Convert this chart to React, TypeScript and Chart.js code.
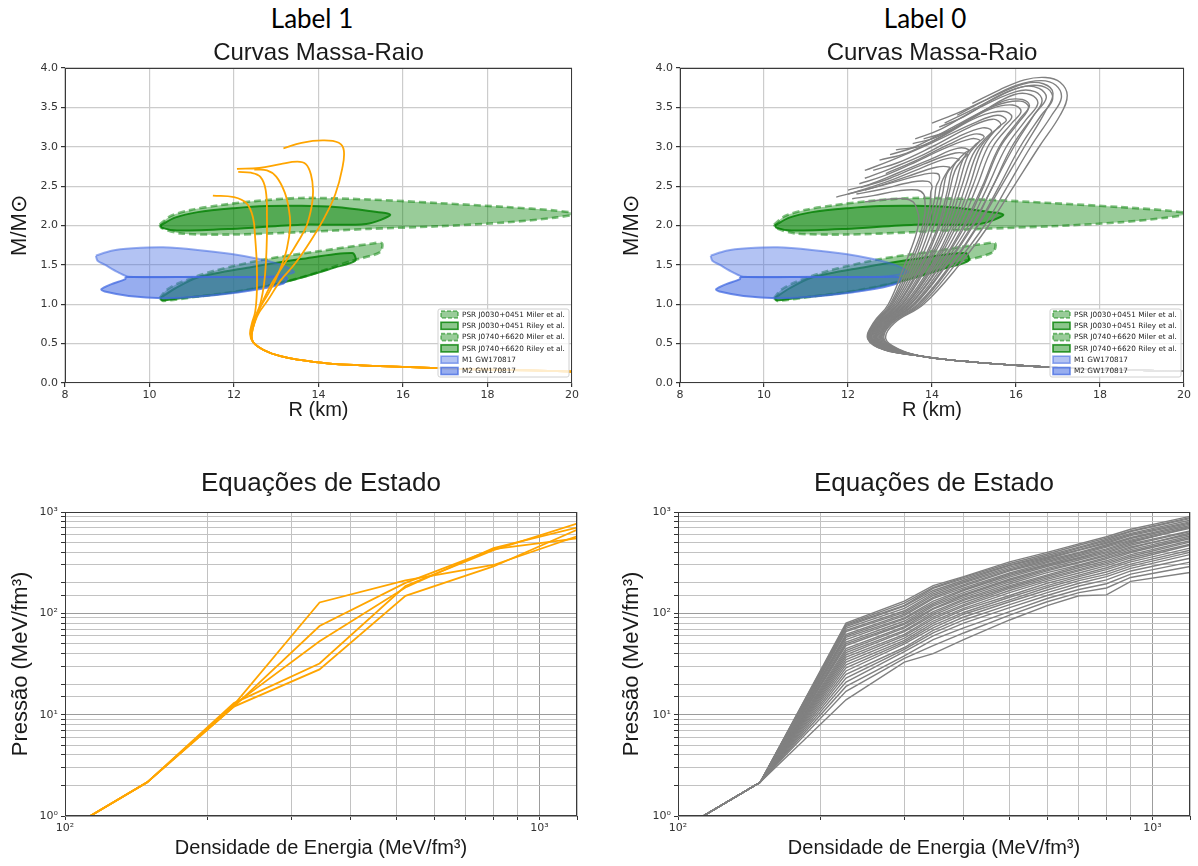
import React, { useEffect, useRef } from 'react';
import { Chart, registerables } from 'chart.js';
Chart.register(...registerables);

type P = [number, number];

// ---------- observational contours (R km, M/Msun) ----------
const J0030_MILER: P[] = [[10.24,1.077],[10.4,1.18],[10.73,1.277],[11.54,1.426],[12.77,1.574],[13.99,1.672],[15.21,1.766],[15.5,1.775],[15.45,1.66],[14.8,1.553],[13.58,1.34],[12.36,1.19],[11.14,1.098],[10.32,1.043],[10.24,1.077]];
const J0030_RILEY: P[] = [[10.26,1.08],[10.6,1.2],[11.14,1.34],[12.36,1.468],[13.58,1.574],[14.8,1.651],[14.87,1.553],[14.4,1.468],[13.17,1.277],[11.95,1.149],[10.73,1.077],[10.3,1.05],[10.26,1.08]];
const J0740_MILER: P[] = [[10.24,2.01],[10.5,2.12],[11.0,2.2],[11.63,2.255],[12.5,2.31],[13.58,2.35],[15.2,2.33],[16.84,2.285],[18.47,2.234],[19.6,2.19],[20.1,2.15],[19.6,2.1],[18.47,2.04],[16.84,1.99],[15.2,1.957],[13.58,1.915],[11.95,1.885],[10.73,1.9],[10.28,1.97],[10.24,2.01]];
const J0740_RILEY: P[] = [[10.26,2.0],[10.6,2.1],[11.14,2.17],[12.0,2.22],[12.77,2.247],[13.6,2.25],[14.4,2.234],[15.2,2.183],[15.7,2.136],[15.13,2.02],[13.58,2.01],[11.95,1.957],[10.65,1.936],[10.3,1.97],[10.26,2.0]];
const GW_M1: P[] = [[8.73,1.617],[9.1,1.68],[9.6,1.71],[10.32,1.723],[11.14,1.69],[11.95,1.638],[12.6,1.574],[13.17,1.49],[13.42,1.404],[12.77,1.349],[11.14,1.349],[9.51,1.349],[9.26,1.404],[8.94,1.502],[8.77,1.553],[8.73,1.617]];
const GW_M2: P[] = [[9.43,1.345],[11.14,1.345],[12.77,1.345],[13.25,1.34],[13.17,1.264],[12.36,1.17],[11.14,1.094],[10.32,1.077],[9.51,1.106],[8.94,1.162],[8.86,1.19],[9.1,1.255],[9.43,1.32],[9.43,1.345]];

const LEGEND_LABELS = ['PSR J0030+0451 Miler et al.','PSR J0030+0451 Riley et al.','PSR J0740+6620 Miler et al.','PSR J0740+6620 Riley et al.','M1 GW170817','M2 GW170817'];

// ---------- Label 1 : mass-radius curves ----------
const ORANGE_TAIL: P[] = [[20.3,0.14],[19,0.16],[18,0.17],[17,0.185],[16,0.205],[15,0.225],[14.2,0.25],[13.6,0.29],[13.1,0.34],[12.7,0.42],[12.45,0.52]];
const ORANGE_MR: P[][] = [
  [[12.38,0.62],[12.42,0.75],[12.5,0.9],[12.54,1.15],[12.54,1.5],[12.5,1.85],[12.45,2.1],[12.3,2.28],[12.0,2.36],[11.5,2.38]],
  [[12.4,0.62],[12.47,0.8],[12.62,1.0],[12.72,1.3],[12.77,1.7],[12.78,2.1],[12.75,2.45],[12.62,2.62],[12.4,2.67],[12.1,2.68]],
  [[12.42,0.62],[12.5,0.8],[12.65,1.0],[12.9,1.27],[13.2,1.52],[13.5,1.78],[13.72,2.0],[13.84,2.25],[13.87,2.45],[13.82,2.65],[13.7,2.78],[13.5,2.81],[13.1,2.78],[12.6,2.73],[12.07,2.72]],
  [[12.42,0.62],[12.5,0.8],[12.63,0.97],[12.85,1.17],[13.08,1.43],[13.25,1.7],[13.33,2.0],[13.3,2.2],[13.2,2.42],[13.0,2.62],[12.78,2.7],[12.48,2.71]],
  [[12.42,0.62],[12.5,0.78],[12.6,0.9],[12.8,1.05],[13.1,1.3],[13.45,1.52],[13.82,1.81],[14.15,2.11],[14.4,2.4],[14.56,2.72],[14.6,2.95],[14.48,3.05],[14.1,3.08],[13.6,3.05],[13.17,2.98]],
];

// ---------- Label 0 : mass-radius curves ----------
const GRAY_TAIL: P[] = [[20.3,0.145],[19,0.16],[18,0.175],[17,0.195],[16,0.225],[15,0.265],[14.3,0.3],[13.7,0.345]];
const GRAY_MR: P[][] = [
  [[13.25,0.42],[12.9,0.56],[13.1,0.76],[13.8,1.0],[14.65,1.5],[15.35,2.0],[15.95,2.5],[16.55,3.0],[17.05,3.4],[17.22,3.65],[17.05,3.82],[16.7,3.88],[16.2,3.85],[15.6,3.72],[14.96,3.55]],
  [[13.22,0.42],[12.86,0.56],[13.05,0.76],[13.75,1.0],[14.55,1.5],[15.25,2.0],[15.8,2.5],[16.35,3.0],[16.85,3.4],[17.08,3.62],[16.95,3.78],[16.6,3.84],[16.0,3.78],[15.3,3.6],[14.6,3.4]],
  [[13.2,0.42],[12.84,0.56],[13.03,0.76],[13.7,1.0],[14.47,1.5],[15.1,2.0],[15.65,2.5],[16.2,3.0],[16.7,3.45],[16.88,3.68],[16.65,3.8],[16.2,3.8],[15.5,3.65],[14.7,3.45],[14.0,3.3]],
  [[13.2,0.42],[12.82,0.56],[13.0,0.76],[13.66,1.0],[14.44,1.5],[15.08,2.0],[15.6,2.5],[16.1,3.0],[16.6,3.4],[16.87,3.6],[16.75,3.74],[16.35,3.78],[15.8,3.7],[15.0,3.48],[14.3,3.3]],
  [[13.18,0.42],[12.8,0.56],[12.98,0.76],[13.6,1.0],[14.35,1.5],[14.98,2.0],[15.45,2.5],[15.95,3.0],[16.4,3.38],[16.62,3.58],[16.45,3.7],[16.0,3.7],[15.0,3.46],[14.2,3.22],[13.6,3.1]],
  [[13.16,0.42],[12.78,0.56],[12.96,0.76],[13.58,1.0],[14.33,1.5],[14.95,2.0],[15.45,2.5],[15.9,3.0],[16.45,3.42],[16.72,3.62],[16.55,3.74],[16.15,3.76],[15.45,3.6],[14.75,3.38],[14.17,3.25]],
  [[13.15,0.42],[12.76,0.56],[12.94,0.76],[13.55,1.0],[14.27,1.5],[14.87,2.0],[15.33,2.5],[15.77,3.0],[16.25,3.35],[16.52,3.55],[16.35,3.66],[15.95,3.66],[15.2,3.45],[14.4,3.2],[13.8,3.1]],
  [[13.14,0.42],[12.74,0.56],[12.92,0.76],[13.5,1.0],[14.21,1.5],[14.79,2.0],[15.23,2.5],[15.63,3.0],[16.05,3.3],[16.3,3.5],[16.1,3.58],[15.5,3.52],[14.5,3.25],[13.6,3.0],[13.0,2.9]],
  [[13.12,0.42],[12.72,0.56],[12.9,0.76],[13.48,1.0],[14.19,1.5],[14.75,2.0],[15.2,2.5],[15.6,3.0],[16.1,3.36],[16.32,3.52],[16.15,3.6],[15.7,3.58],[14.9,3.35],[14.1,3.12],[13.54,3.04]],
  [[13.1,0.42],[12.7,0.56],[12.88,0.76],[13.44,1.0],[14.13,1.5],[14.67,2.0],[15.07,2.5],[15.45,3.0],[15.9,3.3],[16.12,3.45],[15.92,3.53],[15.4,3.48],[14.6,3.25],[13.8,3.02],[13.14,2.96]],
  [[13.08,0.42],[12.68,0.56],[12.86,0.76],[13.4,1.0],[14.07,1.5],[14.59,2.0],[14.97,2.5],[15.33,3.0],[15.7,3.25],[15.9,3.38],[15.7,3.45],[15.1,3.38],[14.2,3.12],[13.4,2.92],[12.75,2.83]],
  [[13.06,0.42],[12.66,0.56],[12.84,0.76],[13.38,1.0],[14.03,1.5],[14.53,2.0],[14.89,2.5],[15.2,2.98],[15.56,3.24],[15.77,3.34],[15.55,3.4],[15.0,3.3],[14.0,3.05],[13.0,2.82],[12.4,2.7]],
  [[13.05,0.42],[12.64,0.56],[12.82,0.76],[13.34,1.0],[13.99,1.5],[14.47,2.0],[14.8,2.5],[15.1,2.95],[15.44,3.18],[15.64,3.28],[15.45,3.35],[14.9,3.25],[14.0,3.0],[13.2,2.8],[12.6,2.7]],
  [[13.04,0.42],[12.62,0.56],[12.8,0.76],[13.3,1.0],[13.91,1.5],[14.39,2.0],[14.71,2.5],[14.97,2.9],[15.26,3.1],[15.42,3.2],[15.2,3.24],[14.6,3.12],[13.8,2.9],[13.0,2.72],[12.4,2.6]],
  [[13.02,0.42],[12.6,0.56],[12.78,0.76],[13.28,1.0],[13.87,1.5],[14.33,2.0],[14.63,2.5],[14.85,2.88],[15.1,3.05],[15.24,3.13],[15.0,3.16],[14.4,3.03],[13.6,2.82],[12.9,2.66]],
  [[13.0,0.42],[12.58,0.56],[12.76,0.76],[13.24,1.0],[13.83,1.5],[14.27,2.0],[14.55,2.5],[14.75,2.85],[15.02,3.02],[15.14,3.08],[14.92,3.1],[14.3,2.98],[13.5,2.78],[12.8,2.62],[12.27,2.53]],
  [[12.98,0.42],[12.57,0.56],[12.74,0.76],[13.2,1.0],[13.77,1.5],[14.19,2.0],[14.41,2.42],[14.55,2.7],[14.76,2.86],[14.84,2.9],[14.56,2.92],[13.8,2.78],[13.0,2.6],[12.3,2.48]],
  [[12.96,0.42],[12.56,0.56],[12.72,0.76],[13.18,1.0],[13.73,1.5],[14.15,2.0],[14.37,2.45],[14.51,2.75],[14.78,2.92],[14.88,2.96],[14.6,2.98],[14.0,2.85],[13.2,2.67],[12.5,2.52],[12.0,2.45]],
  [[12.94,0.42],[12.54,0.56],[12.7,0.76],[13.14,1.0],[13.67,1.5],[14.05,2.0],[14.25,2.4],[14.35,2.65],[14.56,2.8],[14.64,2.84],[14.35,2.85],[13.7,2.72],[12.9,2.55],[12.2,2.43],[11.72,2.36]],
  [[12.92,0.42],[12.52,0.56],[12.68,0.76],[13.1,1.0],[13.61,1.5],[13.97,2.0],[14.15,2.35],[14.23,2.55],[14.38,2.7],[14.42,2.74],[14.1,2.74],[13.4,2.62],[12.6,2.48],[12.0,2.4]],
  [[12.9,0.42],[12.5,0.56],[12.66,0.76],[13.06,1.0],[13.55,1.5],[13.89,2.0],[14.05,2.3],[14.1,2.5],[14.18,2.6],[14.12,2.66],[13.8,2.65],[13.1,2.55],[12.4,2.45]],
  [[12.88,0.42],[12.49,0.56],[12.64,0.76],[13.03,1.0],[13.49,1.5],[13.81,1.95],[13.95,2.25],[13.97,2.42],[14.0,2.5],[13.9,2.56],[13.5,2.55],[12.8,2.46],[12.2,2.4]],
  [[12.87,0.42],[12.48,0.56],[12.62,0.76],[13.0,1.0],[13.43,1.5],[13.73,1.9],[13.83,2.15],[13.83,2.32],[13.8,2.4],[13.65,2.45],[13.2,2.44],[12.6,2.38],[12.1,2.34]],
  [[12.86,0.42],[12.47,0.56],[12.6,0.76],[12.96,1.0],[13.35,1.5],[13.6,1.85],[13.69,2.08],[13.63,2.22],[13.55,2.3],[13.35,2.34],[12.9,2.33],[12.4,2.3]],
];

// ---------- equations of state (energy density, pressure; MeV/fm^3) ----------
const EOS_CRUST: P[] = [[113,1],[149,2.15]];
const ORANGE_EOS_X = [227, 344, 522, 800, 1200];
const ORANGE_EOS_P: number[][] = [
  [12.5, 128, 212, 300, 575],
  [12, 75, 200, 430, 550],
  [12.5, 53, 180, 441, 700],
  [13, 32, 186, 420, 767],
  [12, 28, 149, 290, 667],
];
const GRAY_EOS_X = [226, 300, 345, 400, 500, 600, 700, 800, 900, 1200];
const GRAY_EOS_P: number[][] = [
  [80,132,188,230,322,400,485,570,676,905],
  [78,126,180,226,310,385,470,552,650,880],
  [76,120,176,220,300,372,450,535,640,860],
  [74,118,168,212,296,360,440,520,615,830],
  [71,112,162,205,286,352,425,505,600,800],
  [68,106,156,200,276,345,418,492,585,780],
  [66,102,150,192,268,336,400,475,560,760],
  [62,98,144,186,262,325,392,462,548,735],
  [60,95,140,178,250,316,380,450,528,715],
  [58,90,132,172,244,305,370,432,515,690],
  [55,88,126,168,236,298,356,420,500,705],
  [52,84,122,160,228,290,348,406,485,650],
  [50,80,118,154,218,278,336,395,470,640],
  [48,78,112,150,212,270,322,382,452,600],
  [45,74,110,144,204,262,316,370,440,620],
  [43,72,104,138,196,252,300,356,425,580],
  [41,68,100,134,188,240,292,346,410,560],
  [39,66,96,128,182,232,282,330,398,545],
  [37,62,92,122,176,224,270,318,380,520],
  [35,60,88,118,168,216,262,308,366,505],
  [33,57,84,112,160,208,250,296,352,480],
  [31,54,80,108,150,198,238,282,336,470],
  [29,52,76,102,144,188,230,270,322,440],
  [27,50,72,98,136,180,220,256,306,420],
  [25,46,68,92,130,170,210,242,292,400],
  [23,44,64,86,122,160,198,230,278,380],
  [21,42,60,80,114,150,186,214,262,350],
  [19,38,55,72,104,140,172,196,244,320],
  [17,36,48,64,96,130,160,178,226,290],
  [14,33,40,55,86,119,149,152,207,253],
];

const SUP: Record<number, string> = { 0: '⁰', 1: '¹', 2: '²', 3: '³' };

// ---------- styles ----------
const GREEN_LIGHT = { fill: 'rgba(0,128,0,0.40)', edge: 'rgba(0,128,0,0.50)', dash: true };
const GREEN_DARK = { fill: 'rgba(0,128,0,0.45)', edge: 'rgba(0,128,0,0.80)', dash: false };
const BLUE_LIGHT = { fill: 'rgba(65,105,225,0.40)', edge: 'rgba(65,105,225,0.55)', dash: false };
const BLUE_DARK = { fill: 'rgba(65,105,225,0.55)', edge: 'rgba(65,105,225,0.75)', dash: false };
const LEGEND_STYLES = [GREEN_LIGHT, GREEN_DARK, GREEN_LIGHT, GREEN_DARK, BLUE_LIGHT, BLUE_DARK];

const TICK_FONT = { family: 'DejaVu Sans', size: 11 };
const TITLE_FAMILY = 'Liberation Sans';

const toXY = (pts: P[]) => pts.map(([x, y]) => ({ x, y }));
const isPow10 = (v: number) => {
  const e = Math.log10(v);
  return Math.abs(e - Math.round(e)) < 1e-9;
};

const framePlugin = {
  id: 'frame',
  afterDatasetsDraw(chart: any) {
    const { ctx, chartArea: a } = chart;
    ctx.save();
    ctx.strokeStyle = '#3a3a3a';
    ctx.lineWidth = 1;
    ctx.strokeRect(Math.round(a.left) + 0.5, Math.round(a.top) + 0.5, Math.round(a.right - a.left) - 1, Math.round(a.bottom - a.top) - 1);
    ctx.restore();
  },
};

const legendPlugin = {
  id: 'mrLegend',
  afterDraw(chart: any) {
    const { ctx, chartArea: a } = chart;
    const w = 131, h = 68;
    const x0 = a.right - 3 - w;
    const y0 = a.bottom - 6 - h;
    ctx.save();
    ctx.beginPath();
    const r = 2;
    ctx.moveTo(x0 + r, y0);
    ctx.lineTo(x0 + w - r, y0);
    ctx.quadraticCurveTo(x0 + w, y0, x0 + w, y0 + r);
    ctx.lineTo(x0 + w, y0 + h - r);
    ctx.quadraticCurveTo(x0 + w, y0 + h, x0 + w - r, y0 + h);
    ctx.lineTo(x0 + r, y0 + h);
    ctx.quadraticCurveTo(x0, y0 + h, x0, y0 + h - r);
    ctx.lineTo(x0, y0 + r);
    ctx.quadraticCurveTo(x0, y0, x0 + r, y0);
    ctx.closePath();
    ctx.fillStyle = 'rgba(255,255,255,0.8)';
    ctx.fill();
    ctx.strokeStyle = '#d0d0d0';
    ctx.lineWidth = 1;
    ctx.stroke();
    ctx.font = '7.3px "DejaVu Sans"';
    ctx.textBaseline = 'middle';
    LEGEND_LABELS.forEach((label, i) => {
      const st = LEGEND_STYLES[i];
      const cy = y0 + 5.5 + i * 11.3;
      ctx.fillStyle = st.fill;
      ctx.fillRect(x0 + 3, cy - 3.5, 17, 7);
      ctx.strokeStyle = st.edge;
      ctx.lineWidth = 1.6;
      ctx.setLineDash(st.dash ? [4, 2] : []);
      ctx.strokeRect(x0 + 3, cy - 3.5, 17, 7);
      ctx.setLineDash([]);
      ctx.fillStyle = '#222';
      ctx.fillText(label, x0 + 24, cy + 0.5);
    });
    ctx.restore();
  },
};

function contourDs(pts: P[], st: { fill: string; edge: string; dash: boolean }, order: number) {
  return {
    data: toXY(pts),
    fill: 'shape',
    backgroundColor: st.fill,
    borderColor: st.edge,
    borderWidth: st.dash ? 2.6 : 2,
    borderDash: st.dash ? [7, 4] : [],
    tension: 0.3,
    pointRadius: 0,
    order,
  };
}

function mrConfig(curves: P[][], tail: P[], color: string, lw: number, yAxisW: number, yTitlePad: number, padRight: number): any {
  const curveDs = curves.map((c) => ({
    data: toXY([...tail, ...c]),
    borderColor: color,
    borderWidth: lw,
    fill: false,
    tension: 0.4,
    pointRadius: 0,
    order: 0,
  }));
  const contours = [
    contourDs(J0030_MILER, GREEN_LIGHT, 6),
    contourDs(J0030_RILEY, GREEN_DARK, 5),
    contourDs(J0740_MILER, GREEN_LIGHT, 4),
    contourDs(J0740_RILEY, GREEN_DARK, 3),
    contourDs(GW_M1, BLUE_LIGHT, 2),
    contourDs(GW_M2, BLUE_DARK, 1),
  ];
  return {
    type: 'line',
    data: { datasets: [...curveDs, ...contours] },
    options: {
      responsive: false,
      animation: false,
      devicePixelRatio: 1,
      layout: { padding: { left: 0, right: padRight, top: 0, bottom: 0 } },
      plugins: {
        legend: { display: false },
        tooltip: { enabled: false },
        title: {
          display: true,
          text: 'Curvas Massa-Raio',
          fullSize: false,
          color: '#1a1a1a',
          font: { family: TITLE_FAMILY, size: 24, weight: 'normal' },
          padding: { top: 39.2, bottom: 0 },
        },
      },
      scales: {
        x: {
          type: 'linear',
          min: 8,
          max: 20,
          ticks: { stepSize: 2, autoSkip: false, font: TICK_FONT, color: '#333', padding: 2, maxRotation: 0, callback: (v: any) => String(v) },
          grid: { color: '#cccccc', lineWidth: 1.2, tickColor: '#333', tickLength: 4 },
          border: { display: false },
          title: { display: true, text: 'R (km)', color: '#1a1a1a', font: { family: TITLE_FAMILY, size: 20 }, padding: { top: 0, bottom: 8 } },
          afterFit: (s: any) => { s.height = 47; },
        },
        y: {
          type: 'linear',
          min: 0,
          max: 4,
          ticks: { stepSize: 0.5, autoSkip: false, font: TICK_FONT, color: '#333', padding: 3, callback: (v: any) => Number(v).toFixed(1) },
          grid: { color: '#cccccc', lineWidth: 1.2, tickColor: '#333', tickLength: 4 },
          border: { display: false },
          title: { display: true, text: 'M/M⊙', color: '#1a1a1a', font: { family: TITLE_FAMILY, size: 22 }, padding: { top: yTitlePad, bottom: 0 } },
          afterFit: (s: any) => { s.width = yAxisW; },
        },
      },
    },
    plugins: [framePlugin, legendPlugin],
  };
}

function eosConfig(xs: number[], ps: number[][], color: string, lw: number, yAxisW: number, yTitlePad: number, padRight: number): any {
  const ds = ps.map((row) => ({
    data: toXY([...EOS_CRUST, ...xs.map((x, i) => [x, row[i]] as P)]),
    borderColor: color,
    borderWidth: lw,
    fill: false,
    tension: 0,
    pointRadius: 0,
  }));
  const gridColor = (c: any) => (c.tick && isPow10(c.tick.value) ? '#9c9c9c' : '#c2c2c2');
  const logLabel = (v: any) => (isPow10(Number(v)) ? '10' + SUP[Math.round(Math.log10(Number(v)))] : '');
  return {
    type: 'line',
    data: { datasets: ds },
    options: {
      responsive: false,
      animation: false,
      devicePixelRatio: 1,
      layout: { padding: { left: 0, right: padRight, top: 0, bottom: 0 } },
      plugins: {
        legend: { display: false },
        tooltip: { enabled: false },
        title: {
          display: true,
          text: 'Equações de Estado',
          fullSize: false,
          color: '#1a1a1a',
          font: { family: TITLE_FAMILY, size: 26, weight: 'normal' },
          padding: { top: 38.4, bottom: 12.4 },
        },
      },
      scales: {
        x: {
          type: 'logarithmic',
          min: 100,
          max: 1200,
          ticks: { autoSkip: false, font: TICK_FONT, color: '#333', padding: 2, maxRotation: 0, callback: logLabel },
          grid: { color: gridColor, lineWidth: 1, tickColor: '#333', tickLength: 4 },
          border: { display: false },
          title: { display: true, text: 'Densidade de Energia (MeV/fm³)', color: '#1a1a1a', font: { family: TITLE_FAMILY, size: 20 }, padding: { top: 0, bottom: 6 } },
          afterFit: (s: any) => { s.height = 50; },
        },
        y: {
          type: 'logarithmic',
          min: 1,
          max: 1000,
          ticks: { autoSkip: false, font: TICK_FONT, color: '#333', padding: 3, callback: logLabel },
          grid: { color: gridColor, lineWidth: 1, tickColor: '#333', tickLength: 4 },
          border: { display: false },
          title: { display: true, text: 'Pressão (MeV/fm³)', color: '#1a1a1a', font: { family: TITLE_FAMILY, size: 22 }, padding: { top: yTitlePad, bottom: 0 } },
          afterFit: (s: any) => { s.width = yAxisW; },
        },
      },
    },
    plugins: [framePlugin],
  };
}

function Panel({ left, top, width, height, build }: { left: number; top: number; width: number; height: number; build: () => any }) {
  const ref = useRef<HTMLCanvasElement>(null);
  useEffect(() => {
    const chart = new Chart(ref.current as HTMLCanvasElement, build());
    return () => chart.destroy();
  }, []);
  return <canvas ref={ref} width={width} height={height} style={{ position: 'absolute', left, top, width, height }} />;
}

const labelStyle: React.CSSProperties = {
  position: 'absolute',
  top: 5,
  width: 200,
  textAlign: 'center',
  fontFamily: 'Lato',
  fontSize: 26,
  lineHeight: '26px',
  color: '#000',
};

export default function App() {
  return (
    <div style={{ position: 'absolute', left: 0, top: 0, width: 1198, height: 866, background: '#fff', overflow: 'hidden' }}>
      <div style={{ ...labelStyle, left: 212 }}>Label 1</div>
      <div style={{ ...labelStyle, left: 825 }}>Label 0</div>
      <Panel left={0} top={0} width={599} height={430} build={() => mrConfig(ORANGE_MR, ORANGE_TAIL, '#FFA500', 1.8, 65, 7, 27)} />
      <Panel left={599} top={0} width={599} height={430} build={() => mrConfig(GRAY_MR, GRAY_TAIL, '#808080', 1.4, 81, 20, 14)} />
      <Panel left={0} top={430} width={599} height={436} build={() => eosConfig(ORANGE_EOS_X, ORANGE_EOS_P, '#FFA500', 1.8, 65, 8, 22)} />
      <Panel left={599} top={430} width={599} height={436} build={() => eosConfig(GRAY_EOS_X, GRAY_EOS_P, '#808080', 1.4, 79, 20, 8)} />
    </div>
  );
}
